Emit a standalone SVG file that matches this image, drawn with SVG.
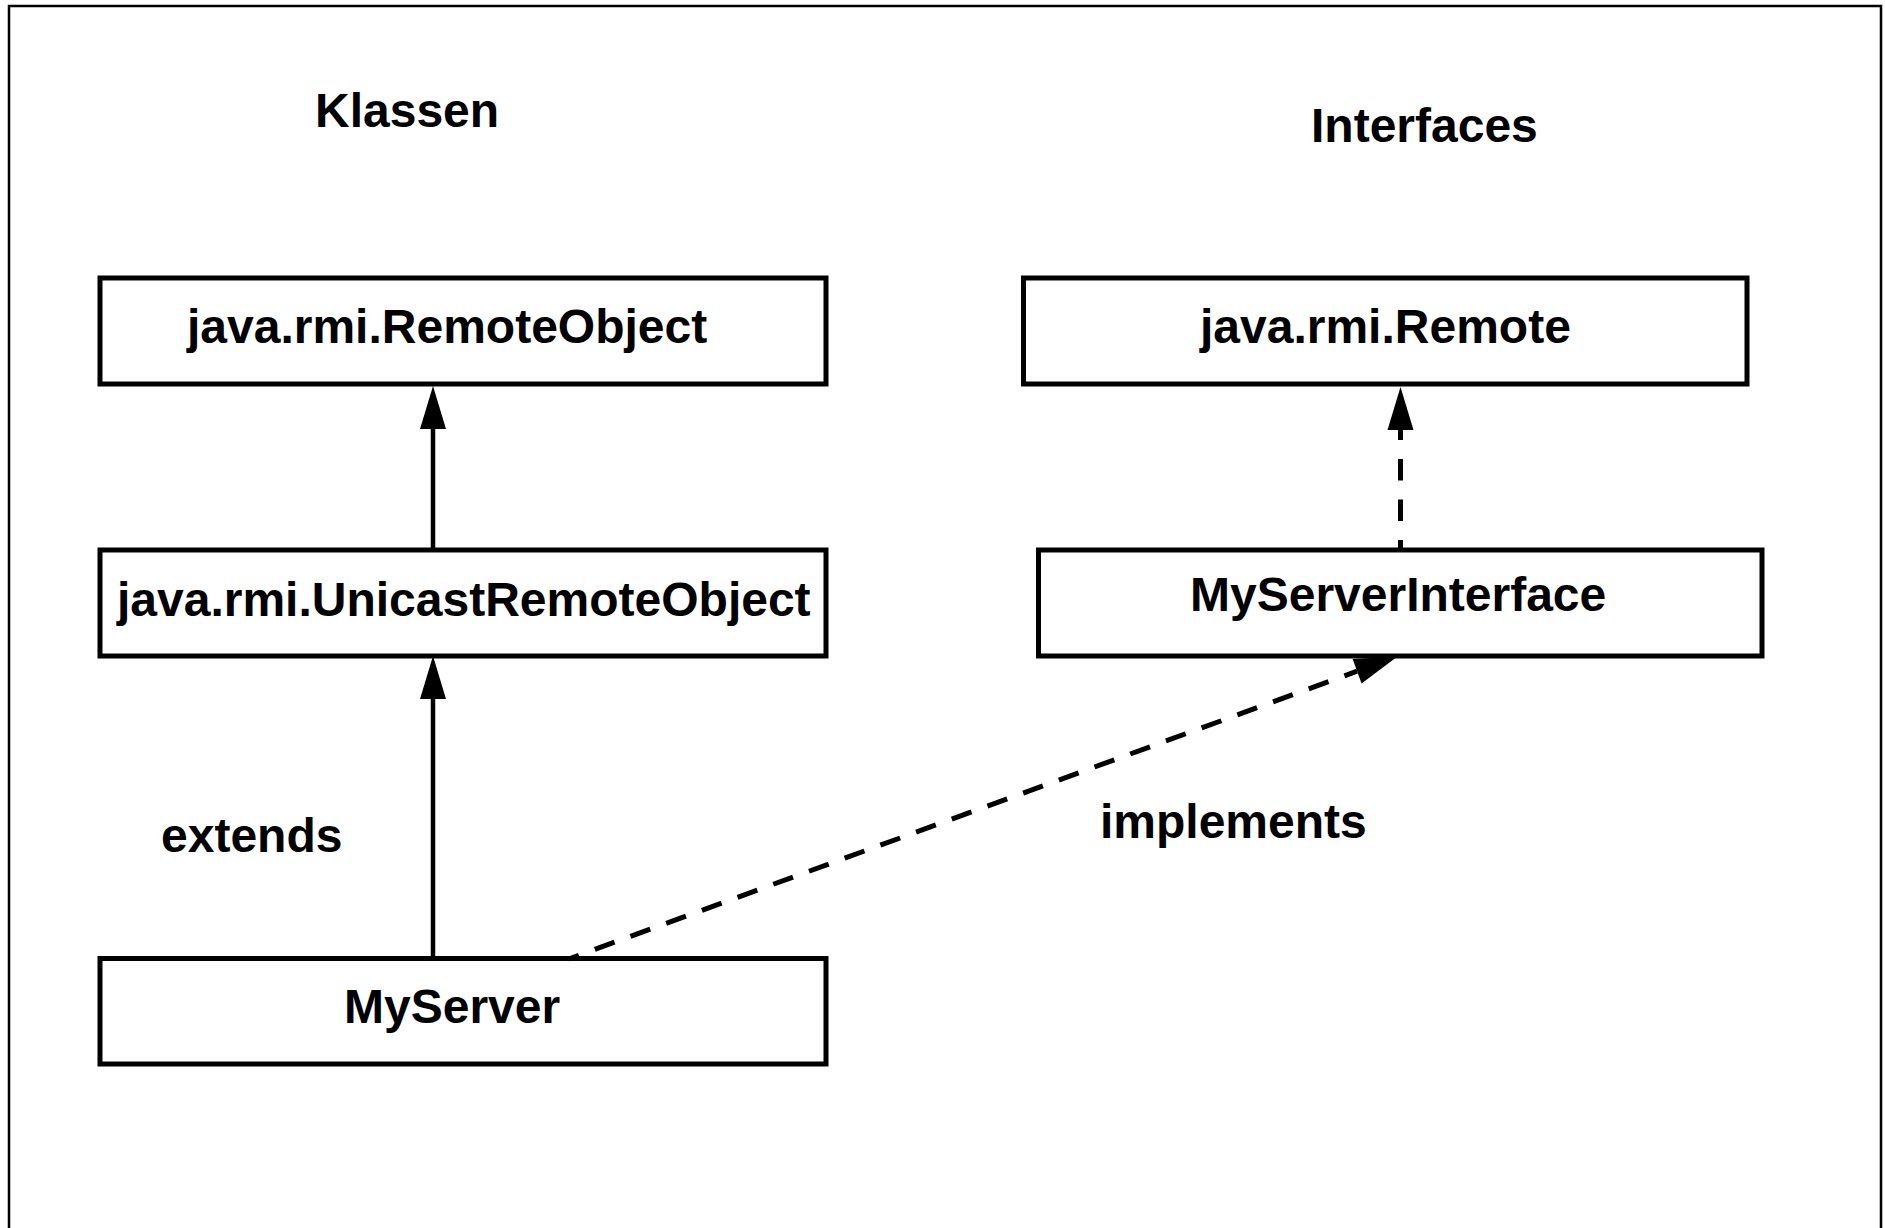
<svg xmlns="http://www.w3.org/2000/svg" width="1885" height="1228" viewBox="0 0 1885 1228">
  <style>
    .box { fill: #fff; stroke: #000; stroke-width: 5; }
    .lbl { font-family: "Liberation Sans", Arial, Helvetica, sans-serif; font-weight: bold; font-size: 48px; fill: #000; }
    .solid { stroke: #000; stroke-width: 4.5; fill: none; }
    .dash { stroke: #000; stroke-width: 5; fill: none; }
  </style>
  <defs>
    <marker id="head" markerUnits="userSpaceOnUse" markerWidth="44" markerHeight="28" refX="0" refY="13" orient="auto" overflow="visible">
      <path d="M0,0 L43,13 L0,26 Z" fill="#000"/>
    </marker>
  </defs>
  <rect x="0" y="0" width="1885" height="1228" fill="#fff"/>
  <rect id="frame" x="9" y="6" width="1872" height="1250" fill="none" stroke="#000" stroke-width="2.5"/>

  <text class="lbl" x="315" y="127">Klassen</text>
  <text class="lbl" x="1311" y="142">Interfaces</text>

  <g id="remoteobject">
    <rect class="box" x="100" y="278" width="726" height="106"/>
    <text class="lbl" x="187" y="343">java.rmi.RemoteObject</text>
  </g>
  <g id="unicastremoteobject">
    <rect class="box" x="100" y="550" width="726" height="106"/>
    <text class="lbl" x="117" y="616">java.rmi.UnicastRemoteObject</text>
  </g>
  <g id="myserver">
    <rect class="box" x="100" y="958.5" width="726" height="105.5"/>
    <text class="lbl" x="344" y="1023">MyServer</text>
  </g>
  <g id="remote">
    <rect class="box" x="1023.5" y="278" width="723.5" height="106"/>
    <text class="lbl" x="1200" y="343">java.rmi.Remote</text>
  </g>
  <g id="myserverinterface">
    <rect class="box" x="1038.5" y="550" width="723.5" height="106"/>
    <text class="lbl" x="1190" y="611">MyServerInterface</text>
  </g>

  <g id="connectors">
    <line class="solid" x1="433" y1="550" x2="433" y2="429" marker-end="url(#head)"/>
    <line class="solid" x1="433" y1="958" x2="433" y2="699" marker-end="url(#head)"/>
    <line class="dash" x1="1400.5" y1="550" x2="1400.5" y2="430" stroke-dasharray="21.5 19" stroke-dashoffset="11.5" marker-end="url(#head)"/>
    <line class="dash" x1="568.5" y1="959" x2="1357.1" y2="671.2" stroke-dasharray="21 17" stroke-dashoffset="10" marker-end="url(#head)"/>
    <text class="lbl" x="161" y="852">extends</text>
    <text class="lbl" x="1100" y="838">implements</text>
  </g>
</svg>
